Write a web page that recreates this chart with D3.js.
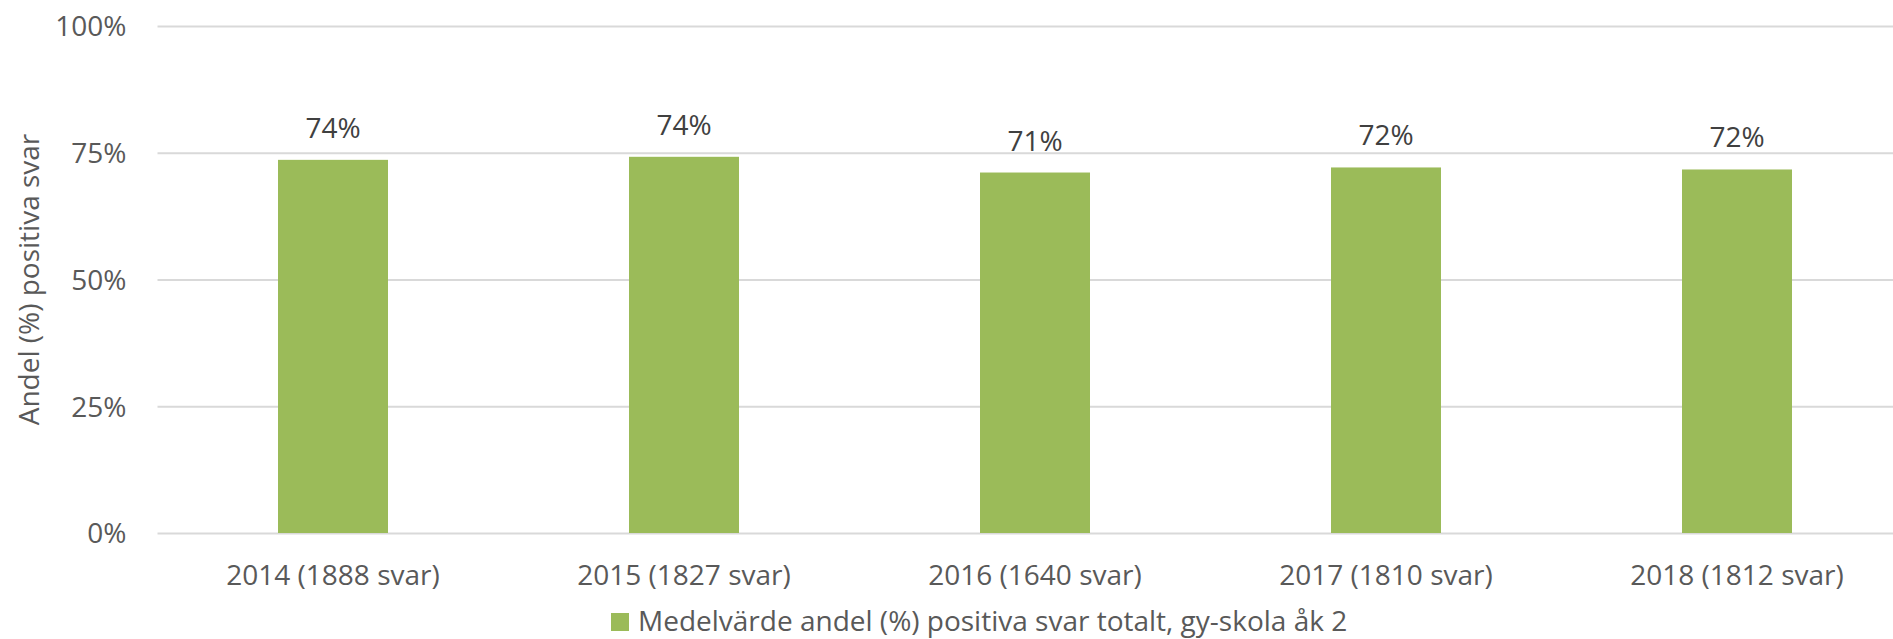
<!DOCTYPE html>
<html lang="sv">
<head>
<meta charset="utf-8">
<title>Andel positiva svar</title>
<script src="https://cdnjs.cloudflare.com/ajax/libs/d3/7.8.5/d3.min.js"></script>
<style>
  html, body { margin: 0; padding: 0; background: #fff; }
  svg { display: block; font-family: "Open Sans", sans-serif; }
  .y-axis .domain, .x-axis .domain { display: none; }
  .y-axis line { stroke: #d9d9d9; stroke-width: 2; }
  .y-axis text, .x-axis text { fill: #595959; font-size: 28px; font-family: "Open Sans", sans-serif; }
</style>
</head>
<body>
<div id="chart"></div>
<script>
// data
const categories = ["2014 (1888 svar)", "2015 (1827 svar)", "2016 (1640 svar)", "2017 (1810 svar)", "2018 (1812 svar)"];
const values = [0.736, 0.742, 0.711, 0.721, 0.717];
const labels = ["74%", "74%", "71%", "72%", "72%"];
const yTicks = [0, 0.25, 0.5, 0.75, 1];
const seriesName = "Medelvärde andel (%) positiva svar totalt, gy-skola åk 2";
const yTitle = "Andel (%) positiva svar";

const width = 1893;
const height = 639;
const plotLeft = 157.5, plotRight = 1912.5, plotTop = 26, plotBottom = 533;
const barColor = "#9bbb59";

const svg = d3.select("#chart")
  .append("svg")
  .attr("width", width)
  .attr("height", height);

const x = d3.scaleBand()
  .domain(categories)
  .range([plotLeft, plotRight])
  .paddingInner(0.6866)
  .paddingOuter(0.3433);

const y = d3.scaleLinear()
  .domain([0, 1])
  .range([plotBottom, plotTop]);

// gridlines + y labels
const yAxis = d3.axisLeft(y)
  .tickValues(yTicks)
  .tickFormat(d3.format(".0%"))
  .tickSize(-(plotRight - plotLeft))
  .tickPadding(31);

svg.append("g")
  .attr("class", "y-axis")
  .attr("transform", `translate(${plotLeft},0)`)
  .call(yAxis)
  .selectAll("text")
    .attr("dy", "0.35em");

// bars
svg.append("g")
  .selectAll("rect")
  .data(values)
  .join("rect")
    .attr("x", (d, i) => x(categories[i]))
    .attr("y", d => y(d))
    .attr("width", x.bandwidth())
    .attr("height", d => y(0) - y(d))
    .attr("fill", barColor);

// value labels
svg.append("g")
  .selectAll("text")
  .data(values)
  .join("text")
    .attr("x", (d, i) => x(categories[i]) + x.bandwidth() / 2)
    .attr("y", d => y(d) - 22)
    .attr("text-anchor", "middle")
    .attr("fill", "#404040")
    .attr("font-size", 28)
    .text((d, i) => labels[i]);

// x axis labels
const xAxis = d3.axisBottom(x).tickSize(0).tickPadding(32);
svg.append("g")
  .attr("class", "x-axis")
  .attr("transform", `translate(0,${plotBottom})`)
  .call(xAxis);

// y title
svg.append("text")
  .attr("transform", `translate(39,${(plotTop + plotBottom) / 2}) rotate(-90)`)
  .attr("text-anchor", "middle")
  .attr("fill", "#595959")
  .attr("font-size", 28)
  .text(yTitle);

// legend
const legend = svg.append("g").attr("transform", "translate(611,613)");
legend.append("rect")
  .attr("width", 18)
  .attr("height", 18)
  .attr("fill", barColor);
legend.append("text")
  .attr("x", 27)
  .attr("y", 18)
  .attr("fill", "#595959")
  .attr("font-size", 28)
  .text(seriesName);
</script>
</body>
</html>
